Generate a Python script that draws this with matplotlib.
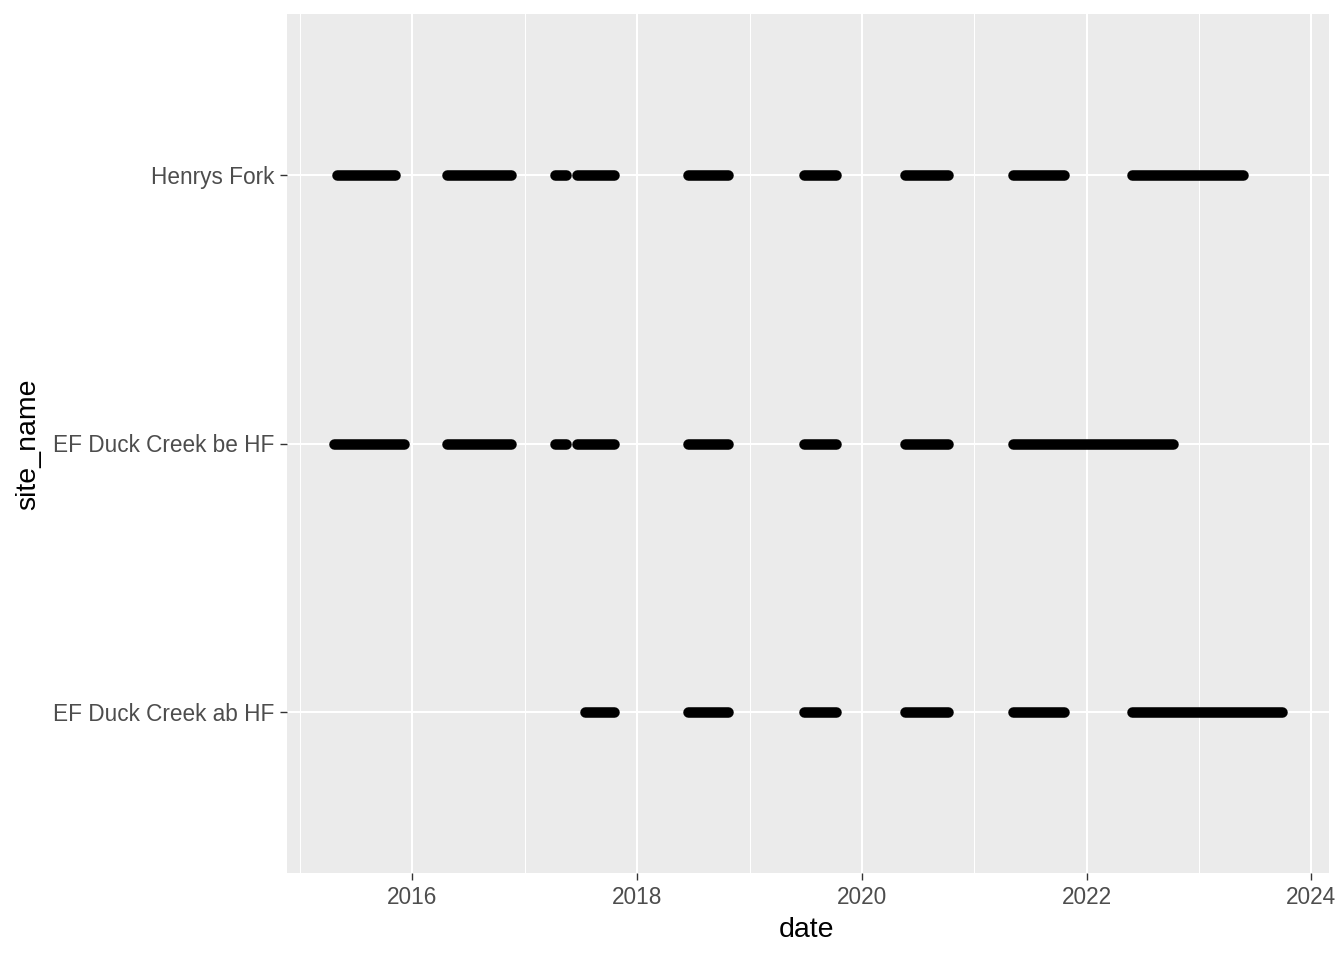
import matplotlib
matplotlib.use('Agg')
import matplotlib.pyplot as plt
import matplotlib.dates as mdates
import pandas as pd

# Site names (bottom to top on the y axis)
sites = ["EF Duck Creek ab HF", "EF Duck Creek be HF", "Henrys Fork"]

# Monitoring periods: (start, end) per site
henrys_fork = [
    ("2015-05-01", "2015-11-06"), ("2016-04-23", "2016-11-17"),
    ("2017-04-10", "2017-05-15"), ("2017-06-20", "2017-10-18"),
    ("2018-06-16", "2018-10-23"), ("2019-06-27", "2019-10-08"),
    ("2020-05-21", "2020-10-06"), ("2021-05-08", "2021-10-18"),
    ("2022-05-28", "2023-05-26"),
]
duck_be = [
    ("2015-04-22", "2015-12-04"), ("2016-04-23", "2016-11-17"),
    ("2017-04-10", "2017-05-15"), ("2017-06-20", "2017-10-18"),
    ("2018-06-16", "2018-10-23"), ("2019-06-27", "2019-10-08"),
    ("2020-05-21", "2020-10-06"), ("2021-05-08", "2022-10-08"),
]
duck_ab = [
    ("2017-07-16", "2017-10-17"), ("2018-06-16", "2018-10-23"),
    ("2019-06-27", "2019-10-08"), ("2020-05-21", "2020-10-06"),
    ("2021-05-08", "2021-10-18"), ("2022-05-28", "2023-09-27"),
]
periods = {"EF Duck Creek ab HF": duck_ab,
           "EF Duck Creek be HF": duck_be,
           "Henrys Fork": henrys_fork}

major_years = [2016, 2018, 2020, 2022, 2024]
minor_years = [2015, 2017, 2019, 2021, 2023]

plt.rcParams['font.family'] = ['Liberation Sans', 'DejaVu Sans']

fig = plt.figure(figsize=(13.44, 9.6), dpi=100)
ax = fig.add_axes([287 / 1344, 1 - 873 / 960, (1329 - 287) / 1344, (873 - 14) / 960])
ax.set_facecolor('#EBEBEB')
for s in ax.spines.values():
    s.set_visible(False)

for i, site in enumerate(sites):
    for start, end in periods[site]:
        ax.plot([pd.Timestamp(start), pd.Timestamp(end)], [i, i], color='black',
                lw=7.6, solid_capstyle='round', zorder=3)

# x range with ggplot-like 5% expansion
all_dates = [pd.Timestamp(d) for p in periods.values() for seg in p for d in seg]
lo, hi = min(all_dates), max(all_dates)
pad = (hi - lo) * 0.05
ax.set_xlim(lo - pad, hi + pad)
ax.set_ylim(-0.6, len(sites) - 1 + 0.6)

ax.set_xticks([mdates.date2num(pd.Timestamp(f"{y}-01-01")) for y in major_years])
ax.set_xticks([mdates.date2num(pd.Timestamp(f"{y}-01-01")) for y in minor_years], minor=True)
ax.set_xticklabels([str(y) for y in major_years])
ax.set_yticks(range(len(sites)))
ax.set_yticklabels(sites)

ax.grid(which='major', color='white', lw=1.5, zorder=1)
ax.grid(which='minor', axis='x', color='white', lw=0.75, zorder=1)
ax.set_axisbelow(True)
ax.tick_params(which='major', length=5, width=1.0, color='#333333',
               labelsize=16.3, labelcolor='#4D4D4D', pad=4)
ax.tick_params(which='minor', length=0)

ax.set_xlabel('date', fontsize=20.5, color='black', va='center')
ax.set_ylabel('site_name', fontsize=20.5, color='black', va='center')
ax.xaxis.set_label_coords((807 - 287) / 1042, (873 - 930) / 859)
ax.yaxis.set_label_coords((28 - 287) / 1042, (873 - 444) / 859)

fig.savefig('out.png', dpi=100)
